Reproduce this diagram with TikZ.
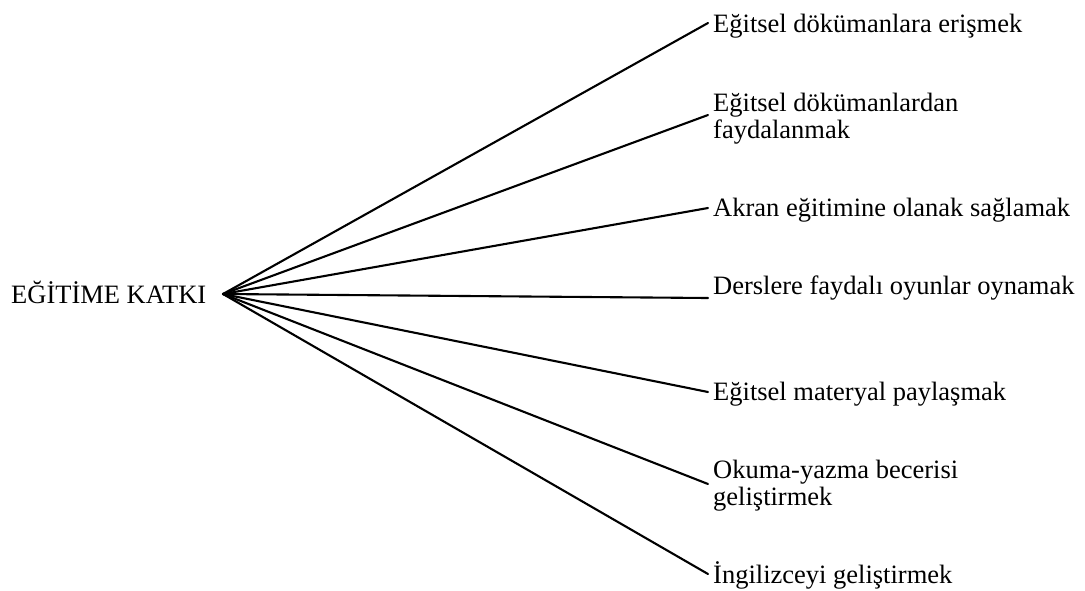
\documentclass[tikz,border=0pt]{standalone}
\usepackage{fontspec}
\setmainfont{Liberation Serif}
\begin{document}
\begin{tikzpicture}[x=1pt,y=-1pt,
  lbl/.style={anchor=base west, inner sep=0pt, font=\fontsize{26.5}{27}\selectfont},
  conn/.style={line width=2.1pt, line cap=round}]
\useasboundingbox (0,0) rectangle (1085,590);
\node[lbl] (root) at (11,303) {EĞİTİME KATKI};
\coordinate (hub) at (223,294);
\node[lbl] (l1) at (713,32) {Eğitsel dökümanlara erişmek};
\node[lbl] (l2) at (713,111) {\begin{tabular}[t]{@{}l@{}}Eğitsel dökümanlardan\\faydalanmak\end{tabular}};
\node[lbl] (l3) at (713,216) {Akran eğitimine olanak sağlamak};
\node[lbl] (l4) at (713,294) {Derslere faydalı oyunlar oynamak};
\node[lbl] (l5) at (713,400) {Eğitsel materyal paylaşmak};
\node[lbl] (l6) at (713,478) {\begin{tabular}[t]{@{}l@{}}Okuma-yazma becerisi\\geliştirmek\end{tabular}};
\node[lbl] (l7) at (713,583) {İngilizceyi geliştirmek};
\draw[conn] (hub) -- ([xshift=-5pt,yshift=9pt]l1.base west);
\draw[conn] (hub) -- ([xshift=-5pt,yshift=-4pt]l2.base west);
\draw[conn] (hub) -- ([xshift=-5pt,yshift=8pt]l3.base west);
\draw[conn] (hub) -- ([xshift=-5pt,yshift=-4pt]l4.base west);
\draw[conn] (hub) -- ([xshift=-5pt,yshift=8pt]l5.base west);
\draw[conn] (hub) -- ([xshift=-5pt,yshift=-6pt]l6.base west);
\draw[conn] (hub) -- ([xshift=-5pt,yshift=9pt]l7.base west);
\end{tikzpicture}
\end{document}
